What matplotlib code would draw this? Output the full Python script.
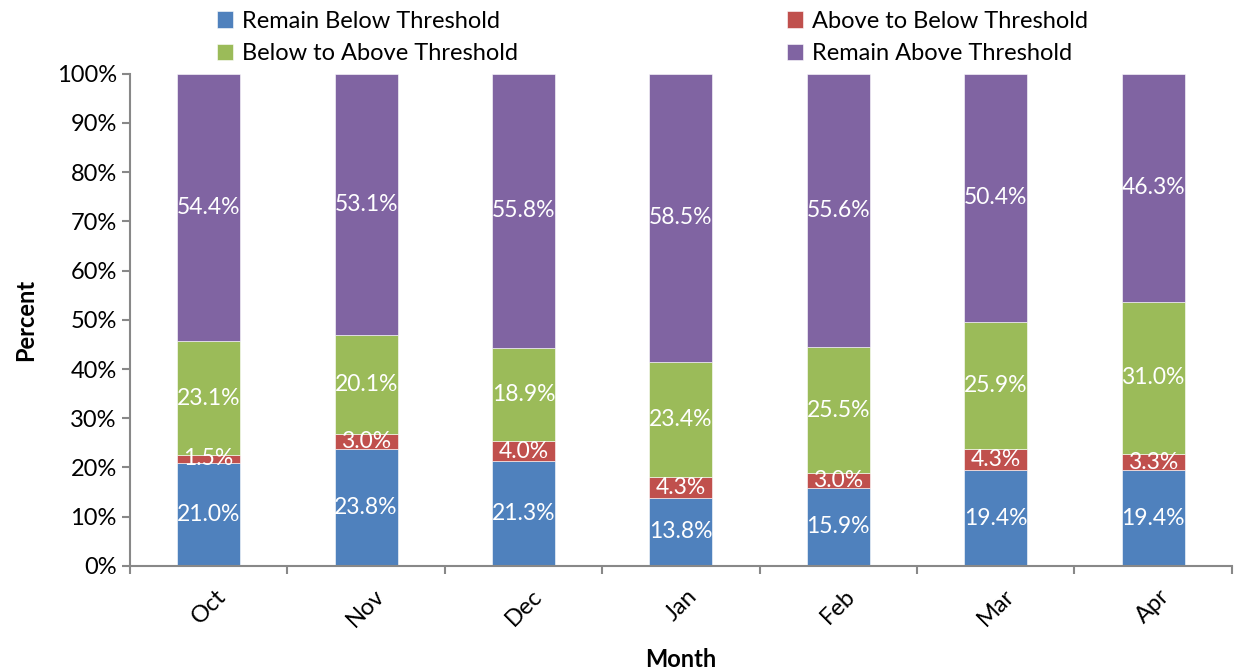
import numpy as np
import matplotlib
matplotlib.use("Agg")
import matplotlib.pyplot as plt
from matplotlib.ticker import PercentFormatter

# ============================================================
# Data
# ============================================================
months = ["Oct", "Nov", "Dec", "Jan", "Feb", "Mar", "Apr"]
remain_below = [21.0, 23.8, 21.3, 13.8, 15.9, 19.4, 19.4]
above_to_below = [1.5, 3.0, 4.0, 4.3, 3.0, 4.3, 3.3]
below_to_above = [23.1, 20.1, 18.9, 23.4, 25.5, 25.9, 31.0]
remain_above = [54.4, 53.1, 55.8, 58.5, 55.6, 50.4, 46.3]

series = [
    ("Remain Below Threshold", remain_below, "#4F81BD"),
    ("Above to Below Threshold", above_to_below, "#C0504D"),
    ("Below to Above Threshold", below_to_above, "#9BBB59"),
    ("Remain Above Threshold", remain_above, "#8064A2"),
]

# ============================================================
# Plot
# ============================================================
plt.rcParams["font.family"] = ["Lato", "DejaVu Sans"]
FS = 17

fig = plt.figure(figsize=(12.38, 6.69), dpi=100)
ax = fig.add_axes([0.105, 0.154, 0.89, 0.736])

x = np.arange(len(months))
bottom = np.zeros(len(months))
handles = {}
for name, vals, color in series:
    vals = np.array(vals)
    bars = ax.bar(x, vals, 0.4, bottom=bottom, color=color,
                  edgecolor="white", linewidth=0.4, label=name)
    handles[name] = bars
    for xi, b, v in zip(x, bottom, vals):
        ax.text(xi, b + v / 2, f"{v:.1f}%", ha="center", va="center",
                color="white", fontsize=16.5)
    bottom += vals

ax.set_xlim(-0.5, len(months) - 0.5)
ax.set_ylim(0, 100)
ax.set_yticks(np.arange(0, 101, 10))
ax.yaxis.set_major_formatter(PercentFormatter(decimals=0))
ax.set_xticks(x)
ax.set_xticklabels(months, rotation=45, fontsize=FS)
ax.set_xticks(np.arange(-0.5, len(months), 1), minor=True)
ax.tick_params(axis="x", which="major", length=0, pad=14)
ax.tick_params(axis="x", which="minor", length=6, color="#888888", width=1.5)
ax.tick_params(axis="y", length=6, color="#888888", width=1.5, labelsize=FS)

for s in ["top", "right"]:
    ax.spines[s].set_visible(False)
for s in ["left", "bottom"]:
    ax.spines[s].set_color("#888888")
    ax.spines[s].set_linewidth(1.5)

ax.set_xlabel("Month", fontsize=FS, fontweight="bold", labelpad=12)
ax.set_ylabel("Percent", fontsize=FS, fontweight="bold", labelpad=14)

order = ["Remain Below Threshold", "Below to Above Threshold",
         "Above to Below Threshold", "Remain Above Threshold"]
fig.legend([handles[n] for n in order], order, ncol=2, frameon=False,
           loc="upper left", bbox_to_anchor=(0.158, 1.016), fontsize=FS,
           columnspacing=11.4, handlelength=0.7, handleheight=0.7,
           handletextpad=0.35, labelspacing=0.5)

fig.savefig("out.png", dpi=100)
